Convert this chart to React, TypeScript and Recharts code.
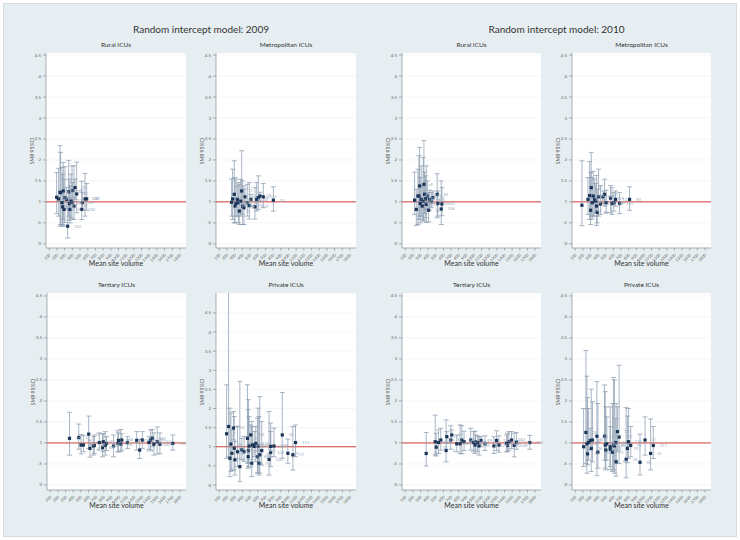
import { ScatterChart, Scatter, XAxis, YAxis, CartesianGrid, ErrorBar, ReferenceLine, LabelList } from "recharts";

// [site id, mean site volume, SMR, lower 95%CI, upper 95%CI]
type Row = [number, number, number, number, number];

const rural2009: Row[] = [
  [12, 195, 1.11, 0.72, 1.7], [48, 221, 1.07, 0.66, 1.8], [5, 239, 1.23, 0.42, 2.34], [61, 247, 1.22, 0.46, 2.18],
  [17, 265, 0.98, 0.42, 1.82], [88, 273, 0.88, 0.46, 1.66], [23, 282, 1.26, 0.58, 1.94], [94, 291, 0.82, 0.42, 1.54],
  [40, 304, 1.1, 0.51, 1.84], [9, 326, 1.06, 0.82, 1.34], [102, 339, 0.42, 0.14, 0.9], [33, 352, 1.24, 0.66, 1.99],
  [57, 360, 0.96, 0.56, 1.54], [76, 369, 0.82, 0.5, 1.38], [120, 382, 1.02, 0.62, 1.66], [14, 395, 0.99, 0.59, 1.86],
  [66, 404, 1.27, 1.1, 1.46], [139, 421, 0.9, 0.58, 1.86], [70, 434, 1.34, 1.06, 1.54], [81, 456, 1.19, 0.74, 1.95],
  [150, 521, 0.82, 0.58, 1.49], [45, 529, 0.98, 0.82, 1.22], [108, 564, 1.07, 0.66, 1.68], [321, 586, 1.07, 0.8, 1.44],
];

const metro2009: Row[] = [
  [3, 260, 0.99, 0.66, 1.55], [19, 273, 1.07, 0.58, 1.78], [27, 295, 1.18, 0.5, 1.98], [42, 304, 0.9, 0.5, 1.58],
  [51, 317, 0.96, 0.66, 1.54], [8, 334, 1.06, 0.66, 1.38], [64, 347, 0.98, 0.5, 1.46], [72, 360, 0.78, 0.46, 1.42],
  [35, 378, 1.02, 0.66, 1.54], [11, 391, 1.26, 0.7, 2.22], [84, 404, 0.9, 0.46, 1.5], [96, 421, 0.86, 0.46, 1.38],
  [52, 434, 1.12, 0.9, 1.31], [58, 464, 0.98, 0.66, 1.42], [101, 490, 0.91, 0.59, 1.46], [67, 512, 1.06, 0.9, 1.18],
  [119, 564, 0.88, 0.59, 1.34], [44, 586, 1.06, 0.78, 1.46], [26, 607, 1.1, 0.82, 1.62], [73, 629, 1.14, 1.02, 1.23],
  [131, 672, 1.12, 0.86, 1.44], [30, 803, 1.04, 0.78, 1.36],
];

const rural2010: Row[] = [
  [12, 222, 1.04, 0.7, 1.71], [48, 244, 0.82, 0.44, 1.3], [5, 266, 1.14, 0.46, 1.78], [61, 279, 1.14, 0.58, 2.1],
  [17, 288, 1.38, 0.66, 2.3], [88, 296, 0.96, 0.5, 1.58], [23, 309, 1.06, 0.66, 1.86], [94, 322, 0.9, 0.59, 1.38],
  [40, 335, 1.02, 0.56, 2.06], [9, 344, 1.42, 0.54, 2.46], [33, 353, 1.18, 0.72, 1.71], [57, 366, 1.07, 0.62, 1.62],
  [76, 375, 0.94, 0.51, 1.86], [120, 388, 1.14, 0.82, 1.5], [14, 405, 0.8, 0.52, 1.22], [66, 418, 1.06, 0.8, 1.28],
  [139, 440, 1.02, 0.86, 1.22], [70, 462, 1.1, 0.96, 1.26], [81, 518, 1.18, 0.62, 1.67], [45, 527, 0.96, 0.66, 1.26],
  [108, 571, 0.83, 0.46, 1.5], [161, 580, 0.95, 0.67, 1.34],
];

const metro2010: Row[] = [
  [3, 187, 0.92, 0.43, 1.98], [19, 266, 1.06, 0.7, 1.58], [27, 288, 1.15, 0.58, 1.96], [42, 301, 0.8, 0.46, 1.7],
  [51, 309, 1.34, 0.66, 2.18], [8, 322, 0.98, 0.59, 1.58], [64, 335, 1.14, 0.66, 1.73], [72, 353, 1.06, 0.66, 1.54],
  [35, 366, 1.02, 0.74, 1.44], [11, 379, 0.9, 0.44, 1.63], [84, 388, 0.75, 0.5, 1.3], [96, 405, 1.12, 0.66, 1.78],
  [52, 431, 0.95, 0.7, 1.39], [58, 462, 1.12, 0.96, 1.26], [101, 484, 1.18, 0.9, 1.54], [67, 505, 0.98, 0.74, 1.28],
  [119, 562, 1.09, 0.74, 1.39], [44, 580, 0.96, 0.7, 1.34], [26, 606, 0.98, 0.78, 1.22], [73, 628, 1.06, 0.9, 1.26],
  [131, 680, 0.96, 0.72, 1.22], [90, 811, 1.06, 0.8, 1.36],
];

const tertiary2009: Row[] = [
  [71, 352, 1.11, 0.71, 1.73], [16, 473, 1.13, 0.85, 1.45], [38, 503, 0.95, 0.74, 1.2], [55, 534, 0.95, 0.79, 1.18],
  [74, 603, 1.21, 0.87, 1.64], [2, 620, 0.87, 0.66, 1.07], [29, 664, 0.93, 0.71, 1.15], [47, 677, 0.94, 0.75, 1.19],
  [63, 742, 1.01, 0.83, 1.24], [80, 785, 0.89, 0.67, 1.22], [97, 794, 1.03, 0.79, 1.22], [104, 820, 0.94, 0.71, 1.27],
  [110, 837, 0.99, 0.82, 1.15], [6, 928, 0.93, 0.67, 1.19], [22, 985, 0.99, 0.79, 1.29], [39, 993, 1.06, 0.79, 1.24],
  [56, 1024, 0.97, 0.79, 1.32], [68, 1037, 1.07, 0.83, 1.22], [85, 1111, 1.01, 0.87, 1.15], [99, 1232, 1.06, 0.83, 1.27],
  [113, 1271, 0.83, 0.63, 1.09], [125, 1306, 1.07, 0.87, 1.27], [132, 1392, 1.01, 0.85, 1.15], [141, 1414, 1.07, 0.83, 1.31],
  [144, 1436, 1.11, 0.91, 1.32], [152, 1458, 0.97, 0.71, 1.24], [157, 1501, 1.03, 0.74, 1.38], [163, 1536, 0.97, 0.74, 1.24],
  [111, 1705, 0.99, 0.83, 1.19],
];

const private2009: Row[] = [
  [7, 195, 1.34, 0.7, 2.62], [15, 221, 1.53, 0.74, 5.4], [20, 238, 0.7, 0.22, 2.01], [24, 251, 1.07, 0.35, 1.88],
  [31, 264, 0.83, 0.39, 1.44], [52, 285, 1.49, 1.18, 1.92], [36, 294, 0.96, 0.39, 1.79], [41, 303, 0.66, 0.26, 1.14],
  [46, 337, 0.87, 0.48, 1.53], [116, 367, 0.48, 0.09, 2.71], [49, 393, 0.92, 0.66, 1.22], [53, 423, 0.87, 0.61, 1.27],
  [59, 466, 1.22, 0.57, 2.62], [62, 475, 0.74, 0.44, 1.97], [65, 479, 0.9, 0.48, 2.23], [69, 488, 1.02, 0.57, 1.79],
  [138, 509, 1.31, 1.09, 1.57], [75, 522, 0.57, 0.22, 1.66], [78, 531, 1.05, 0.66, 1.53], [82, 553, 1.01, 0.74, 1.4],
  [124, 574, 1.09, 0.61, 1.53], [86, 596, 0.74, 0.31, 1.75], [89, 604, 1.02, 0.32, 2.01], [92, 617, 0.57, 0.26, 1.79],
  [95, 626, 0.79, 0.31, 2.31], [142, 652, 0.9, 0.52, 1.66], [100, 747, 0.67, 0.26, 1.92], [103, 768, 0.85, 0.48, 1.62],
  [106, 768, 1.01, 0.74, 1.4], [109, 811, 1.02, 0.74, 1.49], [30, 919, 1.31, 0.7, 2.42], [21, 992, 0.83, 0.57, 1.2],
  [57, 1057, 0.79, 0.39, 1.53], [112, 1091, 1.11, 0.74, 1.57],
];

const tertiary2010: Row[] = [
  [35, 374, 0.75, 0.45, 1.25], [16, 492, 1.03, 0.71, 1.66], [38, 505, 0.9, 0.69, 1.23], [55, 535, 1.01, 0.75, 1.31],
  [74, 565, 1.07, 0.83, 1.35], [2, 635, 0.82, 0.55, 1.55], [29, 644, 1.15, 0.99, 1.27], [47, 696, 1.07, 0.85, 1.41],
  [63, 709, 1.19, 1.07, 1.31], [80, 774, 0.98, 0.79, 1.19], [97, 818, 0.98, 0.75, 1.43], [104, 840, 1.07, 0.74, 1.41],
  [110, 870, 1.03, 0.82, 1.28], [6, 957, 1.07, 0.83, 1.35], [22, 992, 1.01, 0.79, 1.27], [39, 1014, 0.95, 0.75, 1.28],
  [56, 1022, 1.03, 0.83, 1.19], [68, 1048, 1.01, 0.79, 1.17], [85, 1066, 0.93, 0.71, 1.15], [99, 1092, 1.06, 0.91, 1.15],
  [113, 1144, 0.98, 0.82, 1.17], [125, 1261, 0.93, 0.75, 1.15], [132, 1296, 1.06, 0.82, 1.29], [141, 1327, 0.95, 0.78, 1.17],
  [144, 1427, 0.99, 0.79, 1.19], [152, 1440, 0.94, 0.79, 1.23], [157, 1457, 1.03, 0.83, 1.27], [163, 1492, 1.07, 0.87, 1.27],
  [148, 1527, 0.94, 0.67, 1.23], [170, 1557, 1.02, 0.85, 1.25], [111, 1731, 1.01, 0.85, 1.18],
];

const private2010: Row[] = [
  [7, 209, 0.91, 0.44, 1.82], [15, 239, 1.25, 0.51, 3.2], [20, 252, 0.98, 0.28, 2.59], [24, 261, 0.74, 0.48, 2.08],
  [31, 274, 1.01, 0.59, 1.82], [33, 296, 1.06, 0.83, 1.35], [36, 309, 0.87, 0.32, 2.28], [41, 326, 1.07, 0.55, 1.98],
  [46, 383, 1.16, 0.22, 2.46], [101, 396, 0.78, 0.4, 1.94], [138, 483, 1.16, 0.59, 2.38], [53, 492, 0.95, 0.4, 2.22],
  [59, 500, 0.83, 0.36, 1.86], [62, 513, 0.98, 0.59, 1.62], [65, 557, 0.91, 0.44, 1.86], [69, 557, 0.85, 0.36, 1.39],
  [75, 587, 0.78, 0.32, 1.94], [78, 600, 0.95, 0.36, 2.56], [82, 613, 0.93, 0.28, 2.5], [86, 631, 1.01, 0.59, 1.58],
  [89, 635, 0.55, 0.21, 1.94], [133, 652, 1.27, 0.79, 1.86], [121, 674, 1.14, 0.51, 2.85], [28, 766, 0.61, 0.17, 1.84],
  [92, 783, 0.87, 0.53, 1.64], [116, 796, 1.03, 0.63, 1.82], [95, 826, 0.94, 0.67, 1.39], [98, 948, 0.54, 0.24, 1.21],
  [27, 1014, 1.07, 0.71, 1.62], [61, 1087, 0.75, 0.36, 1.57], [117, 1122, 0.94, 0.63, 1.39],
];

const xTicks = [100, 200, 300, 400, 500, 600, 700, 800, 900, 1000, 1100, 1200, 1300, 1400, 1500, 1600, 1700, 1800];
const yTicks = [0, 0.5, 1, 1.5, 2, 2.5, 3, 3.5, 4, 4.5];

const NAVY = "#1b3558";
const BAR = "#8497ac";
const AXIS = "#7b8087";
const FONT = "Lato, 'Open Sans', sans-serif";

const toPoints = (rows: Row[]) =>
  rows.map(([id, vol, smr, lo, hi]) => ({ id, vol, smr, err: [smr - lo, hi - smr] }));

const fmtY = (v: number) => String(v).replace(/^0\./, ".");

const XTick = ({ x, y, payload }: any) => (
  <g transform={`translate(${x},${y})`}>
    <text transform="rotate(-45)" x={-1} y={3} textAnchor="end" fontSize={4} fill="#666" fontFamily={FONT}>
      {payload.value}
    </text>
  </g>
);

const YTick = ({ x, y, payload }: any) => (
  <text x={x} y={y} dy={1.5} textAnchor="end" fontSize={4.5} fill="#666" fontFamily={FONT}>
    {fmtY(payload.value)}
  </text>
);

const Dot = (p: any) => <rect x={p.cx - 1.6} y={p.cy - 1.6} width={3.2} height={3.2} fill={NAVY} />;

const layout = [
  { title: "Rural ICUs", rows: rural2009, x: 46, y: 53, w: 140, h: 195, dom: [-0.1, 4.55] },
  { title: "Metropolitan ICUs", rows: metro2009, x: 216, y: 53, w: 140, h: 195, dom: [-0.1, 4.55] },
  { title: "Rural ICUs", rows: rural2010, x: 402, y: 53, w: 139, h: 195, dom: [-0.1, 4.55] },
  { title: "Metropolitan ICUs", rows: metro2010, x: 572, y: 53, w: 139, h: 195, dom: [-0.1, 4.55] },
  { title: "Tertiary ICUs", rows: tertiary2009, x: 47, y: 293, w: 139, h: 197, dom: [-0.12, 4.57] },
  { title: "Private ICUs", rows: private2009, x: 216, y: 293, w: 140, h: 197, dom: [-0.13, 5.02] },
  { title: "Tertiary ICUs", rows: tertiary2010, x: 402, y: 293, w: 139, h: 197, dom: [-0.12, 4.57] },
  { title: "Private ICUs", rows: private2010, x: 572, y: 293, w: 139, h: 197, dom: [-0.12, 4.57] },
];

const text = (s: any) => ({ position: "absolute" as const, fontFamily: FONT, color: "#333", whiteSpace: "nowrap" as const, ...s });

const Panel = ({ p }: any) => {
  const data = toPoints(p.rows);
  return (
    <>
      <div style={text({ left: p.x, width: p.w, top: p.y - 12, textAlign: "center", fontSize: 6.5 })}>{p.title}</div>
      <div
        style={text({
          left: p.x - 14,
          top: p.y + p.h / 2,
          fontSize: 5,
          color: "#555",
          transform: "translate(-50%, -50%) rotate(-90deg)",
        })}
      >
        SMR 95%CI
      </div>
      <div style={text({ left: p.x, width: p.w, top: p.y + p.h + 11, textAlign: "center", fontSize: 7 })}>
        Mean site volume
      </div>
      <div style={{ position: "absolute", left: p.x - 30, top: p.y }}>
        <ScatterChart width={p.w + 32} height={p.h + 18} margin={{ top: 0, right: 2, bottom: 0, left: 0 }}>
          <CartesianGrid fill="#ffffff" vertical={false} stroke="#eef0f2" strokeWidth={0.6} />
          <XAxis
            type="number"
            dataKey="vol"
            domain={[57, 1878]}
            ticks={xTicks}
            interval={0}
            height={18}
            tick={<XTick />}
            tickSize={2.5}
            stroke={AXIS}
            strokeWidth={0.6}
            allowDataOverflow
          />
          <YAxis
            type="number"
            dataKey="smr"
            domain={p.dom}
            ticks={yTicks}
            interval={0}
            width={30}
            tick={<YTick />}
            tickSize={3}
            stroke={AXIS}
            strokeWidth={0.6}
            allowDataOverflow
          />
          <ReferenceLine y={1} stroke="#d2413a" strokeWidth={1} />
          <Scatter data={data} shape={Dot} isAnimationActive={false}>
            <ErrorBar dataKey="err" direction="y" width={2.5} stroke={BAR} strokeWidth={0.7} isAnimationActive={false} />
            <LabelList dataKey="id" position="right" offset={2} fontSize={4} fill="#9aabbd" fontFamily={FONT} />
          </Scatter>
        </ScatterChart>
      </div>
    </>
  );
};

export default function App() {
  return (
    <div style={{ position: "absolute", left: 0, top: 0, width: 740, height: 540, background: "#ffffff" }}>
      <div
        style={{
          position: "absolute",
          left: 3,
          top: 3,
          width: 732,
          height: 532,
          background: "#e7eef1",
          border: "1px solid #d3dde2",
        }}
      />
      <div style={text({ left: 46, width: 310, top: 23, textAlign: "center", fontSize: 10 })}>
        Random intercept model: 2009
      </div>
      <div style={text({ left: 402, width: 309, top: 23, textAlign: "center", fontSize: 10 })}>
        Random intercept model: 2010
      </div>
      {layout.map((p, i) => (
        <Panel key={i} p={p} />
      ))}
    </div>
  );
}
